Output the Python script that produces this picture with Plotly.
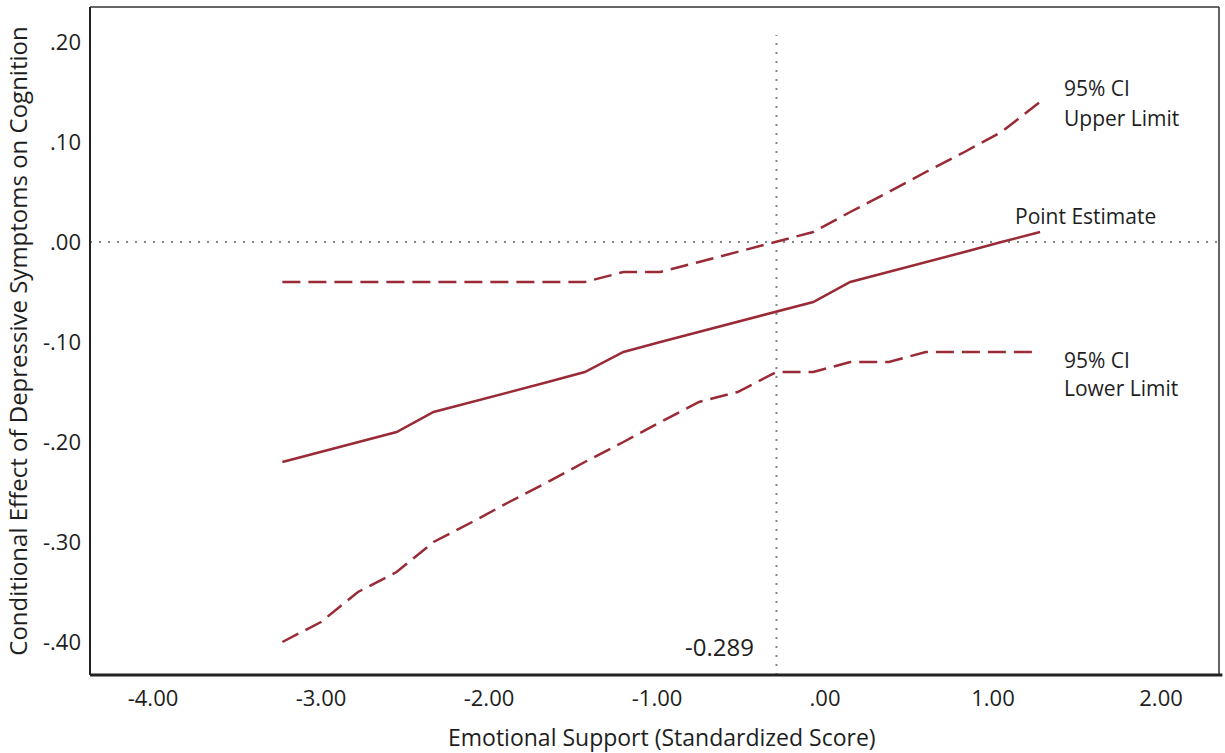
import plotly.graph_objects as go

# Data
x_vals = [-3.23, -3.00, -2.78, -2.55, -2.33, -2.10, -1.88, -1.65, -1.43, -1.20,
          -0.98, -0.75, -0.52, -0.289, -0.07, 0.15, 0.38, 0.60, 0.83, 1.05, 1.28]
point_est = [-0.22, -0.21, -0.20, -0.19, -0.17, -0.16, -0.15, -0.14, -0.13, -0.11,
             -0.10, -0.09, -0.08, -0.07, -0.06, -0.04, -0.03, -0.02, -0.01, 0.00, 0.01]
ci_upper = [-0.04, -0.04, -0.04, -0.04, -0.04, -0.04, -0.04, -0.04, -0.04, -0.03,
            -0.03, -0.02, -0.01, 0.00, 0.01, 0.03, 0.05, 0.07, 0.09, 0.11, 0.14]
ci_lower = [-0.40, -0.38, -0.35, -0.33, -0.30, -0.28, -0.26, -0.24, -0.22, -0.20,
            -0.18, -0.16, -0.15, -0.13, -0.13, -0.12, -0.12, -0.11, -0.11, -0.11, -0.11]

jn_point = -0.289
x_ticks = [-4, -3, -2, -1, 0, 1, 2]
x_ticklabels = ["-4.00", "-3.00", "-2.00", "-1.00", ".00", "1.00", "2.00"]
y_ticks = [0.2, 0.1, 0.0, -0.1, -0.2, -0.3, -0.4]
y_ticklabels = [".20", ".10", ".00", "-.10", "-.20", "-.30", "-.40"]

X_RANGE = [-4.375, 2.345]
Y_RANGE = [-0.433, 0.235]

RED = "#9A2A36"
GREY = "#858585"
FONT = "Open Sans"
TXT = "#1e1e1e"

fig = go.Figure()

# reference lines
fig.add_trace(go.Scatter(x=X_RANGE, y=[0, 0], mode="lines",
                         line=dict(color=GREY, width=2, dash="2px,7px"),
                         hoverinfo="skip", showlegend=False))
fig.add_trace(go.Scatter(x=[jn_point, jn_point], y=[Y_RANGE[0], 0.207], mode="lines",
                         line=dict(color=GREY, width=2, dash="2px,7px"),
                         hoverinfo="skip", showlegend=False))

fig.add_trace(go.Scatter(x=x_vals, y=ci_upper, mode="lines",
                         line=dict(color=RED, width=2.5, dash="18px,8px"),
                         showlegend=False))
fig.add_trace(go.Scatter(x=x_vals, y=point_est, mode="lines",
                         line=dict(color=RED, width=2.5),
                         showlegend=False))
fig.add_trace(go.Scatter(x=x_vals, y=ci_lower, mode="lines",
                         line=dict(color=RED, width=2.5, dash="18px,8px"),
                         showlegend=False))

ann_font = dict(family=FONT, size=21, color=TXT)
annotations = [
    dict(x=1.41, y=0.154, text="95% CI", xanchor="left", yanchor="middle"),
    dict(x=1.41, y=0.124, text="Upper Limit", xanchor="left", yanchor="middle"),
    dict(x=1.12, y=0.026, text="Point Estimate", xanchor="left", yanchor="middle"),
    dict(x=1.41, y=-0.118, text="95% CI", xanchor="left", yanchor="middle"),
    dict(x=1.41, y=-0.146, text="Lower Limit", xanchor="left", yanchor="middle"),
    dict(x=-0.41, y=-0.404, text="-0.289", xanchor="right", yanchor="middle",
         font=dict(family=FONT, size=24, color=TXT)),
]
for a in annotations:
    a.update(xref="x", yref="y", showarrow=False)
    a.setdefault("font", ann_font)

# x-axis title as a paper-positioned annotation
annotations.append(dict(xref="paper", yref="paper", x=0.5066, y=-0.0928,
                        xanchor="center", yanchor="middle", showarrow=False,
                        text="Emotional Support (Standardized Score)",
                        font=dict(family=FONT, size=23, color=TXT)))

shapes = [
    dict(type="line", xref="paper", yref="paper", x0=0, x1=1, y0=1, y1=1,
         line=dict(color="#333", width=1.5)),
    dict(type="line", xref="paper", yref="paper", x0=1, x1=1, y0=0, y1=1,
         line=dict(color="#333", width=1.5)),
    dict(type="line", xref="paper", yref="paper", x0=0, x1=0, y0=0, y1=1,
         line=dict(color="#222", width=2)),
    dict(type="line", xref="paper", yref="paper", x0=0, x1=1.003, y0=0, y1=0,
         line=dict(color="#222", width=3)),
]

fig.update_layout(
    width=1225, height=753,
    margin=dict(l=90, r=6, t=7, b=78),
    paper_bgcolor="white", plot_bgcolor="white",
    font=dict(family=FONT, size=21, color=TXT),
    annotations=annotations,
    shapes=shapes,
    xaxis=dict(range=X_RANGE, tickvals=x_ticks, ticktext=x_ticklabels,
               showgrid=False, zeroline=False, showline=False, ticks="",
               ticklabelstandoff=8,
               tickfont=dict(family=FONT, size=22, color=TXT)),
    yaxis=dict(range=Y_RANGE, tickvals=y_ticks, ticktext=y_ticklabels,
               showgrid=False, zeroline=False, showline=False, ticks="",
               ticklabelstandoff=8,
               tickfont=dict(family=FONT, size=22, color=TXT),
               title=dict(text="Conditional Effect of Depressive Symptoms on Cognition",
                          font=dict(family=FONT, size=24, color=TXT), standoff=8)),
)

fig.write_html("out.html")
